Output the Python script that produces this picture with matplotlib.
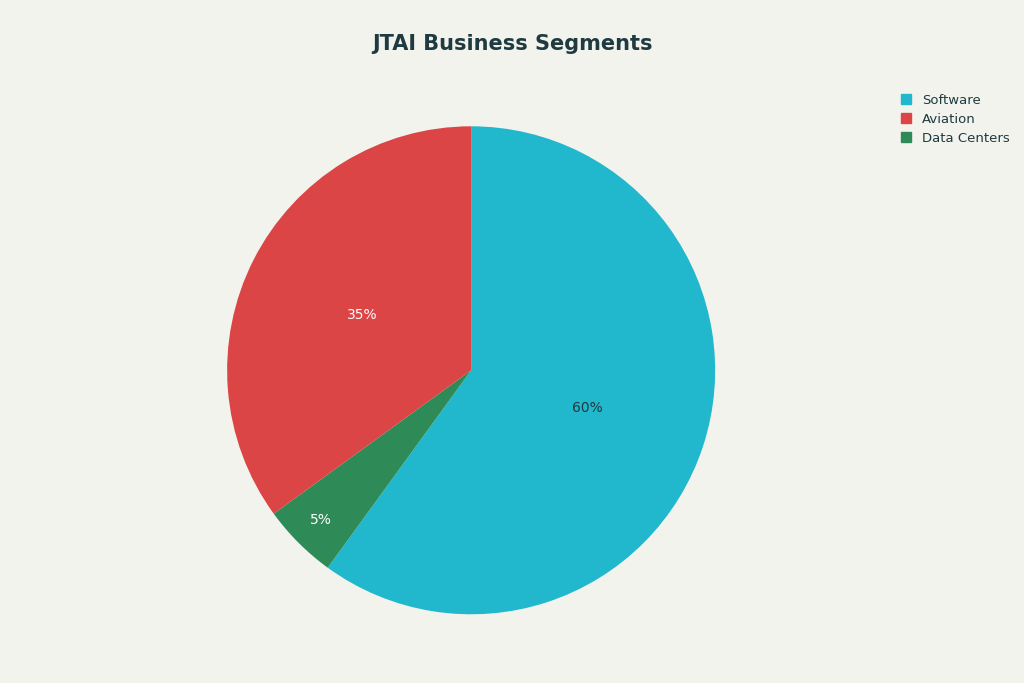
import numpy as np
import matplotlib
matplotlib.use("Agg")
import matplotlib.pyplot as plt
from matplotlib.patches import Patch

segments = ["Software", "Data Centers", "Aviation"]
shares = [60, 5, 35]
colors = ["#21B8CD", "#2E8B57", "#DB4545"]
legend_order = ["Software", "Aviation", "Data Centers"]
text_colors = ["#1F3A40", "white", "white"]

bg = "#F3F3EE"
fig = plt.figure(figsize=(10.24, 6.83), dpi=100, facecolor=bg)
ax = fig.add_axes([0.2218, 0.1006, 0.4766, 0.7145])
ax.set_facecolor(bg)

wedges, texts, autotexts = ax.pie(shares, colors=colors, startangle=90, counterclock=False,
                                  autopct="%d%%", pctdistance=0.5,
                                  textprops={"fontsize": 10})
for t, c in zip(autotexts, text_colors):
    t.set_color(c)
# small slice label sits nearer the edge
x, y = autotexts[1].get_position()
r = np.hypot(x, y)
autotexts[1].set_position((x / r * 0.87, y / r * 0.87))
ax.set_aspect("auto")
ax.set_xlim(-1, 1)
ax.set_ylim(-1, 1)

fig.text(0.5, 0.935, "JTAI Business Segments", ha="center", va="center",
         fontsize=15, fontweight="bold", color="#1F3A40")

handles = [Patch(color=colors[segments.index(s)]) for s in legend_order]
fig.legend(handles, legend_order, loc="upper left", bbox_to_anchor=(0.868, 0.88),
           frameon=False, fontsize=9.5, handlelength=0.8, handleheight=0.8,
           labelcolor="#1F3A40", handletextpad=0.8, labelspacing=0.45)

fig.savefig("out.png", dpi=100, facecolor=bg)
